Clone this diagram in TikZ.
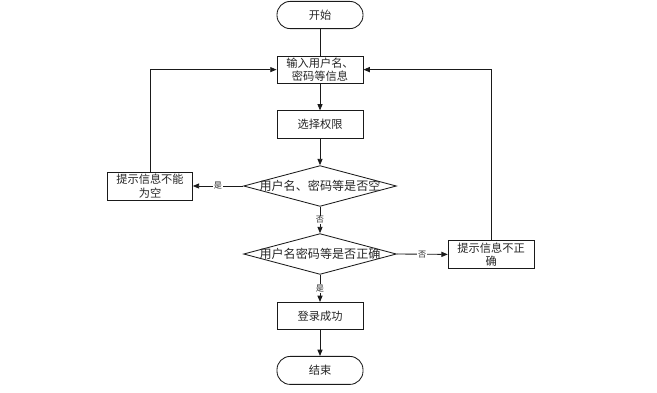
\documentclass[tikz,border=0pt]{standalone}
\usepackage{fontspec}
\usepackage{xcolor}
\usetikzlibrary{shapes.geometric, arrows.meta}
\newfontfamily\cjk{Noto Sans CJK SC}
\definecolor{line-dark}{HTML}{1A1A1A}
\definecolor{text-dark}{HTML}{262626}

\begin{document}
\begin{tikzpicture}[line width=0.6pt, draw=line-dark,
    every node/.style={text=text-dark},
    terminal/.style={draw=line-dark, rounded corners=0.33cm, minimum width=2.15cm,
      minimum height=0.68cm, font=\cjk\fontsize{8}{9.5}\selectfont},
    process/.style={draw=line-dark, fill=white, minimum width=2.15cm, minimum height=0.68cm,
      align=center, inner sep=1pt, font=\cjk\fontsize{8}{9.5}\selectfont},
    decision/.style={draw=line-dark, diamond, inner sep=0pt, minimum width=3.82cm,
      minimum height=1.02cm},
    qtext/.style={font=\cjk\fontsize{8.6}{10}\selectfont},
    tag/.style={fill=white, inner sep=0.6pt, font=\cjk\fontsize{5.8}{7}\selectfont},
    arrow/.style={draw=line-dark, -{Triangle[length=4.5pt, width=3.6pt]}}]
    \useasboundingbox (0,0) rectangle (16.425,-9.8);
    \node[terminal] (start) at (8.0,-0.375) {开始};
    \node[process] (input) at (8.0,-1.74) {输入用户名、\\密码等信息};
    \node[process] (role) at (8.0,-3.11) {选择权限};
    \node[decision] (qempty) at (8.0,-4.65) {};
    \node[qtext] (qemptytext) at (qempty) {用户名、密码等是否空};
    \node[process, minimum width=2.12cm, minimum height=0.7cm] (empty) at (3.75,-4.65)
      {提示信息不能\\为空};
    \node[decision] (qright) at (8.0,-6.35) {};
    \node[qtext] (qrighttext) at (qright) {用户名密码等是否正确};
    \node[process, minimum height=0.7cm] (wrong) at (12.28,-6.36) {提示信息不正\\确};
    \node[process] (ok) at (8.0,-7.9) {登录成功};
    \node[terminal, minimum height=0.7cm] (finish) at (8.0,-9.26) {结束};
    % main flow
    \draw (start) -- (input);
    \draw[arrow] (input) -- (role);
    \draw[arrow] (role) -- (qempty);
    \draw[arrow] (qempty.west) -- (empty.east) node[tag, midway] (yesempty) {是};
    \draw[arrow] (qempty.south) -- (qright.north) node[tag, midway] (noempty) {否};
    \draw[arrow] (qright.east) -- (wrong.west) node[tag, midway] (noright) {否};
    \draw[arrow] (qright.south) -- (ok.north) node[tag, midway] (yesright) {是};
    \draw[arrow] (ok) -- (finish);
    % loops back to input
    \draw[arrow] (empty.north) |- (input.west);
    \draw[arrow] (wrong.north) |- (input.east);
  \end{tikzpicture}
\end{document}
